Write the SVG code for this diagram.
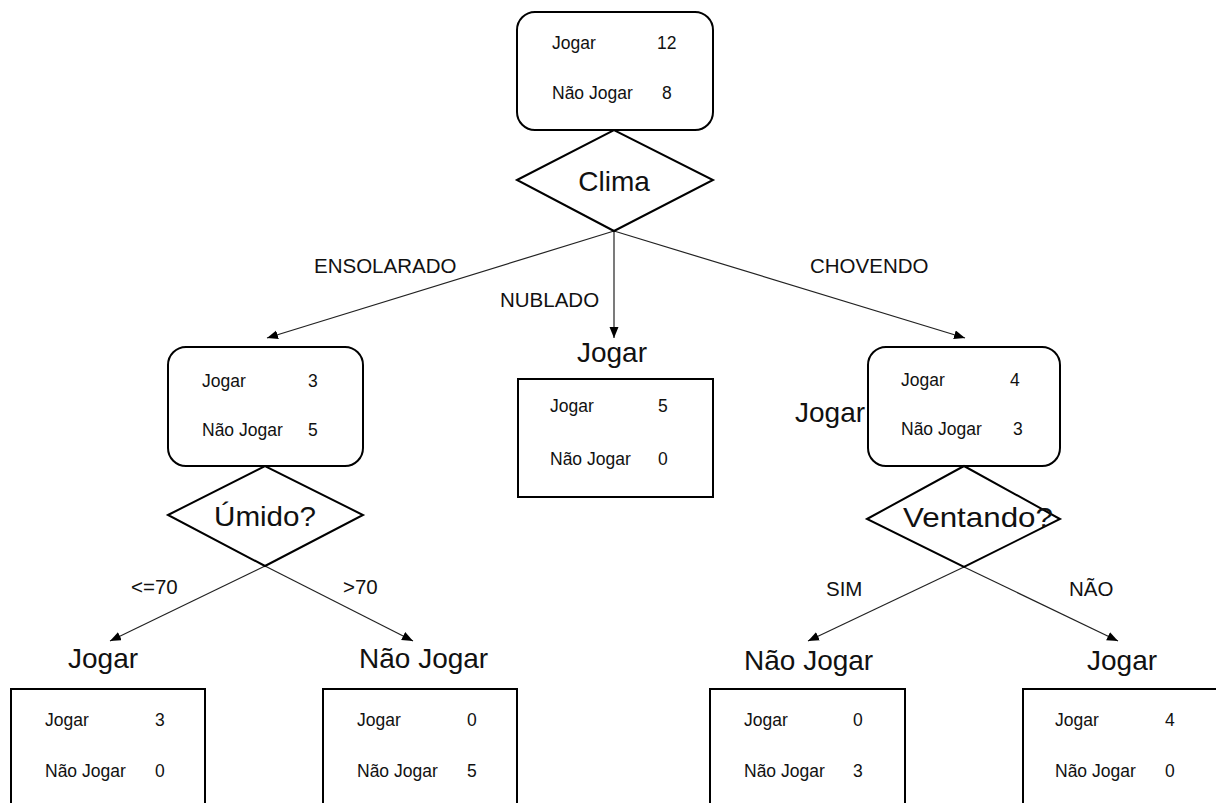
<svg xmlns="http://www.w3.org/2000/svg" width="1216" height="803" viewBox="0 0 1216 803">
<defs>
<style>
.box{fill:#fff;stroke:#000;stroke-width:2}
.dia{fill:#fff;stroke:#000;stroke-width:2}
.t{font-family:"Liberation Sans",Arial,sans-serif;font-size:17.5px;fill:#111}
.big{font-family:"Liberation Sans",Arial,sans-serif;font-size:28px;fill:#111}
.lbl{font-family:"Liberation Sans",Arial,sans-serif;font-size:20.5px;fill:#111}
.c{stroke:#222;stroke-width:1.2;fill:none;marker-end:url(#ah)}
</style>
<marker id="ah" markerUnits="userSpaceOnUse" markerWidth="12" markerHeight="10" refX="11" refY="4.5" orient="auto">
<path d="M0,0 L11,4.5 L0,9 z" fill="#000"/>
</marker>
</defs>
<rect width="1216" height="803" fill="#fff"/>

<g id="connectors">
<line class="c" x1="614" y1="231" x2="267" y2="338"/>
<line class="c" x1="614" y1="231" x2="614" y2="338"/>
<line class="c" x1="614" y1="231" x2="965" y2="338"/>
<line class="c" x1="265" y1="566" x2="110" y2="641"/>
<line class="c" x1="265" y1="566" x2="413" y2="641"/>
<line class="c" x1="964" y1="567" x2="808" y2="641"/>
<line class="c" x1="964" y1="567" x2="1118" y2="641"/>
<text class="lbl" x="314" y="273">ENSOLARADO</text>
<text class="lbl" x="500" y="307">NUBLADO</text>
<text class="lbl" x="810" y="273">CHOVENDO</text>
<text class="lbl" x="131" y="594">&lt;=70</text>
<text class="lbl" x="343" y="594">&gt;70</text>
<text class="lbl" x="826" y="596">SIM</text>
<text class="lbl" x="1069" y="596">NÃO</text>
</g>

<g id="root">
<rect class="box" x="517" y="12" width="196" height="118" rx="18"/>
<text class="t" x="552" y="49">Jogar</text>
<text class="t" x="657" y="49">12</text>
<text class="t" x="552" y="99">Não Jogar</text>
<text class="t" x="662" y="99">8</text>
</g>

<g id="clima">
<polygon class="dia" points="517,180 614,130 713,180 614,231"/>
<text class="big" x="614" y="191" text-anchor="middle">Clima</text>
</g>

<g id="ensolarado">
<rect class="box" x="168" y="347" width="195" height="119" rx="18"/>
<text class="t" x="202" y="387">Jogar</text>
<text class="t" x="308" y="387">3</text>
<text class="t" x="202" y="436">Não Jogar</text>
<text class="t" x="308" y="436">5</text>
</g>

<g id="umido">
<polygon class="dia" points="168,515 265,466 363,515 265,566"/>
<text class="big" x="265" y="526" text-anchor="middle" textLength="102" lengthAdjust="spacingAndGlyphs">Úmido?</text>
</g>

<g id="nublado">
<text class="big" x="612" y="362" text-anchor="middle">Jogar</text>
<rect class="box" x="518" y="379" width="195" height="118"/>
<text class="t" x="550" y="412">Jogar</text>
<text class="t" x="658" y="412">5</text>
<text class="t" x="550" y="465">Não Jogar</text>
<text class="t" x="658" y="465">0</text>
</g>

<g id="chovendo">
<text class="big" x="795" y="422">Jogar</text>
<rect class="box" x="868" y="347" width="192" height="119" rx="18"/>
<text class="t" x="901" y="386">Jogar</text>
<text class="t" x="1010" y="386">4</text>
<text class="t" x="901" y="435">Não Jogar</text>
<text class="t" x="1013" y="435">3</text>
</g>

<g id="ventando">
<polygon class="dia" points="867,519 964,466 1060,519 964,567"/>
<text class="big" x="978" y="527" text-anchor="middle" textLength="150" lengthAdjust="spacingAndGlyphs">Ventando?</text>
</g>

<g id="leaf-umido-menor">
<text class="big" x="68" y="668">Jogar</text>
<rect class="box" x="11" y="689" width="194" height="130"/>
<text class="t" x="45" y="726">Jogar</text>
<text class="t" x="155" y="726">3</text>
<text class="t" x="45" y="777">Não Jogar</text>
<text class="t" x="155" y="777">0</text>
</g>

<g id="leaf-umido-maior">
<text class="big" x="359" y="668">Não Jogar</text>
<rect class="box" x="323" y="689" width="194" height="130"/>
<text class="t" x="357" y="726">Jogar</text>
<text class="t" x="467" y="726">0</text>
<text class="t" x="357" y="777">Não Jogar</text>
<text class="t" x="467" y="777">5</text>
</g>

<g id="leaf-ventando-sim">
<text class="big" x="744" y="670">Não Jogar</text>
<rect class="box" x="710" y="689" width="195" height="130"/>
<text class="t" x="744" y="726">Jogar</text>
<text class="t" x="853" y="726">0</text>
<text class="t" x="744" y="777">Não Jogar</text>
<text class="t" x="853" y="777">3</text>
</g>

<g id="leaf-ventando-nao">
<text class="big" x="1087" y="670">Jogar</text>
<rect class="box" x="1023" y="689" width="220" height="130"/>
<text class="t" x="1055" y="726">Jogar</text>
<text class="t" x="1165" y="726">4</text>
<text class="t" x="1055" y="777">Não Jogar</text>
<text class="t" x="1165" y="777">0</text>
</g>
</svg>
